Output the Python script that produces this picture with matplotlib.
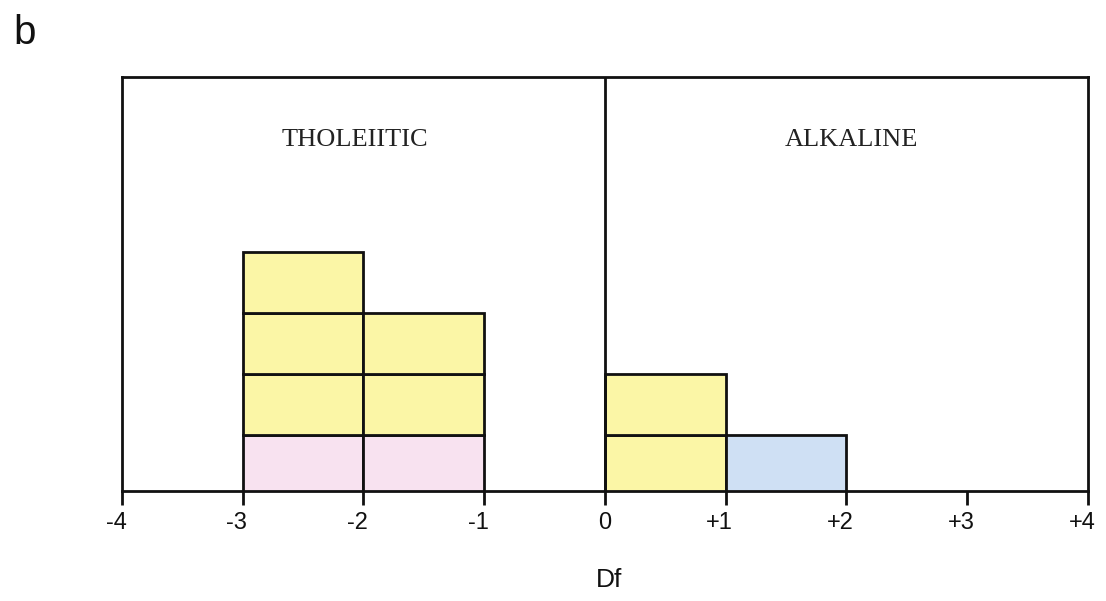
import matplotlib
matplotlib.use("Agg")
import matplotlib.pyplot as plt
from matplotlib.patches import Rectangle
import matplotlib.transforms as mtransforms

# Data: each sample is one box, stacked in its Df bin
bin_left = [-3, -3, -3, -3, -2, -2, -2, 0, 0, 1]
stack_level = [0, 1, 2, 3, 0, 1, 2, 0, 1, 0]
box_group = ["pink", "yellow", "yellow", "yellow", "pink", "yellow", "yellow",
             "yellow", "yellow", "blue"]
group_colors = {"yellow": "#fbf6a6", "pink": "#f8e2f0", "blue": "#cfe0f4"}

xticks = [-4, -3, -2, -1, 0, 1, 2, 3, 4]
xticklabels = ["-4", "-3", "-2", "-1", "0", "+1", "+2", "+3", "+4"]
field_labels = ["THOLEIITIC", "ALKALINE"]
field_x = [-2.07, 2.04]

fig = plt.figure(figsize=(11.06, 6.01), dpi=100)
ax = fig.add_axes([0.1103, 0.183, 0.8734, 0.689])
ax.set_xlim(-4, 4)
ax.set_ylim(0.08, 6.87)

for x0, lvl, g in zip(bin_left, stack_level, box_group):
    ax.add_patch(Rectangle((x0, lvl), 1, 1, facecolor=group_colors[g],
                           edgecolor="#111111", linewidth=2.0, zorder=2,
                           clip_on=True))

ax.axvline(0, color="#111111", linewidth=2.0, zorder=3)

for s in ax.spines.values():
    s.set_linewidth(2.0)
    s.set_color("#111111")

ax.set_yticks([])
ax.set_xticks(xticks)
ax.tick_params(axis="x", direction="out", length=10, width=2, color="#111111",
               pad=5)
ax.set_xticklabels(xticklabels, fontsize=17, family="Liberation Sans",
                   color="#111111")
for lab, t in zip(ax.get_xticklabels(), xticklabels):
    if t != "0":
        lab.set_transform(lab.get_transform() +
                          mtransforms.ScaledTranslation(-6 / 100, 0, fig.dpi_scale_trans))

for lbl, fx in zip(field_labels, field_x):
    ax.text(fx, 5.83, lbl, ha="center", va="center", fontsize=19,
            family="Liberation Serif", color="#222222")

fig.text(0.551, 0.035, "Df", ha="center", va="center", fontsize=19,
         family="Liberation Sans", color="#111111")
fig.text(0.012, 0.945, "b", ha="left", va="center", fontsize=29,
         family="Liberation Sans", color="#111111")

fig.savefig("out.png", dpi=100)
